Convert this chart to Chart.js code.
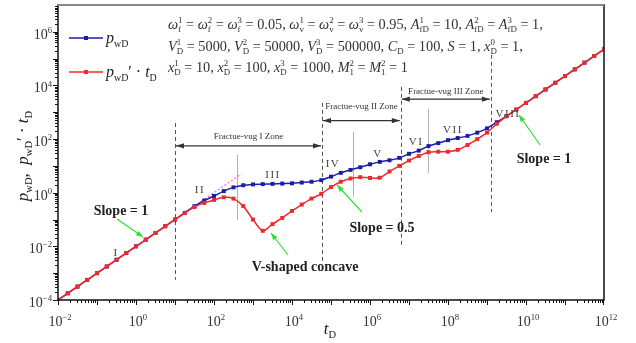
<!DOCTYPE html>
<html>
<head>
<meta charset="utf-8">
<script src="https://cdn.jsdelivr.net/npm/chart.js@4.4.0/dist/chart.umd.min.js"></script>
<style>
  html, body { margin: 0; padding: 0; background: #fff; }
</style>
</head>
<body>
<canvas id="c" width="636" height="343"></canvas>
<script>
// log10 of tD at each marker (every quarter decade)
const tExp = [-2, -1.75, -1.5, -1.25, -1, -0.75, -0.5, -0.25, 0, 0.25, 0.5, 0.75, 1, 1.25, 1.5, 1.75,
  2, 2.25, 2.5, 2.75, 3, 3.25, 3.5, 3.75, 4, 4.25, 4.5, 4.75, 5, 5.25, 5.5, 5.75, 6, 6.25, 6.5, 6.75,
  7, 7.25, 7.5, 7.75, 8, 8.25, 8.5, 8.75, 9, 9.25, 9.5, 9.75, 10, 10.25, 10.5, 10.75, 11, 11.25, 11.5, 11.75, 12];

// log10 of pwD (blue)
const pwdLog = [-4, -3.75, -3.5, -3.25, -3, -2.75, -2.5, -2.25, -2, -1.75, -1.5, -1.25, -1, -0.75, -0.5, -0.29,
  -0.12, 0.06, 0.2, 0.28, 0.31, 0.32, 0.33, 0.34, 0.35, 0.38, 0.41, 0.47, 0.6, 0.74, 0.85, 0.95, 1.06, 1.15, 1.21, 1.3,
  1.45, 1.57, 1.74, 1.85, 1.96, 2.04, 2.12, 2.24, 2.4, 2.63, 2.86, 3.1, 3.35, 3.6, 3.85, 4.1, 4.35, 4.6, 4.85, 5.1, 5.35];

// log10 of pwD' * tD (red)
const derivLog = [-4, -3.75, -3.5, -3.25, -3, -2.75, -2.5, -2.25, -2, -1.75, -1.5, -1.25, -1, -0.76, -0.53, -0.38,
  -0.27, -0.17, -0.22, -0.5, -1.0, -1.42, -1.17, -0.94, -0.68, -0.44, -0.22, -0.04, 0.21, 0.41, 0.53, 0.58, 0.55, 0.56, 0.79, 1.0,
  1.2, 1.37, 1.51, 1.53, 1.53, 1.6, 1.78, 2.0, 2.24, 2.57, 2.85, 3.1, 3.35, 3.6, 3.85, 4.1, 4.35, 4.6, 4.85, 5.1, 5.35];

// pink unit-slope guide
const guideT = [10, 500];
const guideV = [0.1, 5.0];

// zone boundaries (log10 tD) and dashed line extents (log10 y)
const zoneBounds = [1, 4.77, 6.79, 9.1];
const zoneLineLo = [-3.25, -2.62, -1.95, -0.72];
const zoneLineHi = [2.6, 3.35, 3.95, 5.14];
const zoneArrowY = [1.75, 2.69, 3.49];
const zoneNames = ["Fractue-vug I Zone", "Fractue-vug II Zone", "Fractue-vug III Zone"];

// thin grey flow-regime separators (log10 tD, log10 y range)
const sepT = [2.59, 5.56, 7.49];
const sepLo = [-1.01, -0.15, 0.74];
const sepHi = [1.41, 2.28, 3.13];

const xDecades = [-2, 0, 2, 4, 6, 8, 10, 12];
const yDecades = [-4, -2, 0, 2, 4, 6];

const SERIF = '"Liberation Serif", "Times New Roman", serif';
const RED = "#ee2b2b";
const BLUE = "#1c1ca8";
const GREEN = "#33dd33";

// tiny markup: *italic*, _{sub}, ^{sup}; sub followed by sup gets stacked
function parseRich(s) {
  const toks = [];
  let buf = "", ital = false, lastScript = false;
  const flush = () => { if (buf) { toks.push({ t: buf, i: ital, p: 0 }); buf = ""; } };
  for (let i = 0; i < s.length; i++) {
    const c = s[i];
    if (c === "*") { flush(); ital = !ital; lastScript = false; continue; }
    if ((c === "_" || c === "^") && s[i + 1] === "{") {
      flush();
      const end = s.indexOf("}", i);
      toks.push({ t: s.slice(i + 2, end), i: false, p: c === "_" ? 1 : -1, stack: lastScript });
      lastScript = true;
      i = end;
      continue;
    }
    buf += c;
    lastScript = false;
  }
  flush();
  return toks;
}

function drawRich(ctx, src, x, y, size, align = "left", color = "#222", weight = "") {
  const toks = parseRich(src);
  const sm = size * 0.62;
  let cx = 0, sx = null, sw = 0;
  const laid = [];
  for (const t of toks) {
    const fs = t.p ? sm : size;
    ctx.font = `${t.i ? "italic " : ""}${weight} ${fs}px ${SERIF}`;
    const w = ctx.measureText(t.t).width;
    if (t.stack && sx !== null) {
      laid.push({ ...t, x: sx, fs });
      cx = sx + Math.max(sw, w);
      sx = null;
    } else {
      laid.push({ ...t, x: cx, fs });
      if (t.p) { sx = cx; sw = w; } else sx = null;
      cx += w;
    }
  }
  const x0 = align === "center" ? x - cx / 2 : align === "right" ? x - cx : x;
  ctx.fillStyle = color;
  ctx.textAlign = "left";
  ctx.textBaseline = "alphabetic";
  for (const t of laid) {
    ctx.font = `${t.i ? "italic " : ""}${weight} ${t.fs}px ${SERIF}`;
    const dy = t.p === 1 ? size * 0.24 : t.p === -1 ? -size * 0.42 : 0;
    ctx.fillText(t.t, x0 + t.x, y + dy);
  }
  return cx;
}

function arrow(ctx, x1, y1, x2, y2, color, len = 7, half = 2.6, both = false) {
  ctx.save();
  ctx.strokeStyle = color;
  ctx.fillStyle = color;
  ctx.lineWidth = 1.2;
  ctx.beginPath();
  ctx.moveTo(x1, y1);
  ctx.lineTo(x2, y2);
  ctx.stroke();
  const head = (ax, ay, bx, by) => {
    const a = Math.atan2(by - ay, bx - ax);
    ctx.beginPath();
    ctx.moveTo(bx, by);
    ctx.lineTo(bx - len * Math.cos(a) + half * Math.sin(a), by - len * Math.sin(a) - half * Math.cos(a));
    ctx.lineTo(bx - len * Math.cos(a) - half * Math.sin(a), by - len * Math.sin(a) + half * Math.cos(a));
    ctx.closePath();
    ctx.fill();
  };
  head(x1, y1, x2, y2);
  if (both) head(x2, y2, x1, y1);
  ctx.restore();
}

const decor = {
  id: "decor",
  beforeDatasetsDraw(chart) {
    const { ctx, scales: { x, y } } = chart;
    const X = (e) => x.getPixelForValue(Math.pow(10, e));
    const Y = (e) => y.getPixelForValue(Math.pow(10, e));
    ctx.save();
    // dashed zone boundaries
    ctx.strokeStyle = "#555";
    ctx.lineWidth = 1;
    ctx.setLineDash([4, 3]);
    zoneBounds.forEach((b, i) => {
      ctx.beginPath();
      ctx.moveTo(Math.round(X(b)) + 0.5, Y(zoneLineHi[i]));
      ctx.lineTo(Math.round(X(b)) + 0.5, Y(zoneLineLo[i]));
      ctx.stroke();
    });
    ctx.setLineDash([]);
    // grey separators
    ctx.strokeStyle = "#b0b0b0";
    sepT.forEach((t, i) => {
      ctx.beginPath();
      ctx.moveTo(Math.round(X(t)) + 0.5, Y(sepHi[i]));
      ctx.lineTo(Math.round(X(t)) + 0.5, Y(sepLo[i]));
      ctx.stroke();
    });
    ctx.restore();
  },
  afterDraw(chart) {
    const { ctx, chartArea: a, scales: { x, y } } = chart;
    const X = (e) => x.getPixelForValue(Math.pow(10, e));
    const Y = (e) => y.getPixelForValue(Math.pow(10, e));
    ctx.save();

    // frame
    ctx.strokeStyle = "#111";
    ctx.lineWidth = 1.5;
    ctx.strokeRect(a.left, a.top, a.right - a.left, a.bottom - a.top);
    ctx.strokeStyle = "#888";
    ctx.lineWidth = 2;
    ctx.beginPath();
    ctx.moveTo(a.left, a.top); ctx.lineTo(a.right, a.top);
    ctx.stroke();

    // ticks, outward
    ctx.lineWidth = 1;
    ctx.strokeStyle = "#111";
    ctx.beginPath();
    for (let d = -2; d < 12; d++) {
      for (let k = 1; k < 10; k++) {
        const px = Math.round(x.getPixelForValue(k * Math.pow(10, d))) + 0.5;
        const len = k === 1 ? 5 : 3;
        ctx.moveTo(px, a.bottom);
        ctx.lineTo(px, a.bottom + len);
      }
    }
    ctx.moveTo(a.right - 0.5, a.bottom); ctx.lineTo(a.right - 0.5, a.bottom + 5);
    for (let d = -4; d < 7; d++) {
      for (let k = 1; k < 10; k++) {
        const py = Math.round(y.getPixelForValue(k * Math.pow(10, d))) + 0.5;
        const len = k === 1 ? 5 : 3;
        ctx.moveTo(a.left, py);
        ctx.lineTo(a.left - len, py);
      }
    }
    ctx.stroke();

    // tick labels
    xDecades.forEach(e => drawRich(ctx, "10^{" + String(e).replace("-", "\u2212") + "}", X(e) + 2, 326, 14, "center", "#333"));
    yDecades.forEach(e => drawRich(ctx, "10^{" + String(e).replace("-", "\u2212") + "}", 52, Y(e) + 7, 14, "right", "#333"));

    // axis titles
    drawRich(ctx, "*t*_{D}", 330, 334, 17, "center", "#222");
    ctx.save();
    ctx.translate(22, 156);
    ctx.rotate(-Math.PI / 2);
    drawRich(ctx, "*p*_{wD},  *p*_{wD}\u2032 \u00b7 *t*_{D}", 0, 6, 17, "center", "#222");
    ctx.restore();

    // legend
    [[BLUE, 38, "*p*_{wD}"], [RED, 72, "*p*_{wD}\u2032 \u00b7 *t*_{D}"]].forEach(([col, ly, txt]) => {
      ctx.strokeStyle = col;
      ctx.lineWidth = 1.5;
      ctx.beginPath();
      ctx.moveTo(69, ly); ctx.lineTo(103, ly);
      ctx.stroke();
      ctx.fillStyle = col;
      ctx.fillRect(84, ly - 2, 4, 4);
      drawRich(ctx, txt, 106, ly + 5, 16, "left", "#222");
    });

    // parameter block
    const fs = 14.3;
    drawRich(ctx, "*ω*_{f}^{1} = *ω*_{f}^{2} = *ω*_{f}^{3} = 0.05, *ω*_{v}^{1} = *ω*_{v}^{2} = *ω*_{v}^{3} = 0.95, *A*_{fD}^{1} = 10, *A*_{fD}^{2} = *A*_{fD}^{3} = 1,", 168, 29, fs, "left", "#333");
    drawRich(ctx, "*V*_{D}^{1} = 5000, *V*_{D}^{2} = 50000, *V*_{D}^{3} = 500000, *C*_{D} = 100, *S* = 1, *x*_{D}^{0} = 1,", 168, 51, fs, "left", "#333");
    drawRich(ctx, "*x*_{D}^{1} = 10, *x*_{D}^{2} = 100, *x*_{D}^{3} = 1000, *M*_{1}^{2} = *M*_{1}^{2} = 1", 168, 72, fs, "left", "#333");

    // zone arrows and names
    const nameY = [139, 109, 94];
    zoneArrowY.forEach((ly, i) => {
      const x1 = X(zoneBounds[i]) + 1, x2 = X(zoneBounds[i + 1]) - 1, py = Y(ly);
      arrow(ctx, x1, py, x2, py, "#333", 8, 2.6, true);
      ctx.font = `9px ${SERIF}`;
      ctx.fillStyle = "#333";
      ctx.textAlign = "center";
      ctx.fillText(zoneNames[i], (x1 + x2) / 2, nameY[i]);
    });

    // flow regime numerals
    ctx.font = `11px ${SERIF}`;
    ctx.fillStyle = "#444";
    ctx.textAlign = "center";
    ctx.letterSpacing = "1.5px";
    [["I", 116, 256], ["II", 200, 193], ["III", 273, 178], ["IV", 333, 167], ["V", 378, 157],
     ["VI", 416, 145], ["VII", 453, 133], ["VIII", 508, 117]].forEach(([s, px, py]) => ctx.fillText(s, px, py));
    ctx.letterSpacing = "0px";

    // green callouts
    arrow(ctx, 117, 219, 143, 237, GREEN);
    arrow(ctx, 288, 255, 271, 233, GREEN);
    arrow(ctx, 362, 212, 337, 185, GREEN);
    arrow(ctx, 540, 145, 519, 115, GREEN);
    ctx.font = `bold 14px ${SERIF}`;
    ctx.fillStyle = "#222";
    ctx.textAlign = "center";
    ctx.fillText("Slope = 1", 121, 215);
    ctx.fillText("V-shaped concave", 305, 271);
    ctx.fillText("Slope = 0.5", 382, 232);
    ctx.fillText("Slope = 1", 544, 163);

    ctx.restore();
  }
};

const pts = (vals) => tExp.map((e, i) => ({ x: Math.pow(10, e), y: Math.pow(10, vals[i]) }));

new Chart(document.getElementById("c"), {
  type: "line",
  data: {
    datasets: [
      {
        label: "pwD' tD",
        data: pts(derivLog),
        borderColor: RED,
        backgroundColor: RED,
        borderWidth: 1.5,
        pointStyle: "rect",
        pointRadius: 2.8,
        pointBorderWidth: 0,
        tension: 0.3,
        order: 0
      },
      {
        label: "pwD",
        data: pts(pwdLog),
        borderColor: BLUE,
        backgroundColor: BLUE,
        borderWidth: 1.5,
        pointStyle: "rect",
        pointRadius: 2.8,
        pointBorderWidth: 0,
        tension: 0.3,
        order: 1
      },
      {
        label: "slope 1",
        data: guideT.map((t, i) => ({ x: t, y: guideV[i] })),
        borderColor: "#ff66cc",
        borderWidth: 1.2,
        borderDash: [2, 2],
        pointRadius: 0,
        order: 2
      }
    ]
  },
  options: {
    responsive: false,
    animation: false,
    layout: { padding: { left: 58, right: 32, top: 5, bottom: 43 } },
    plugins: { legend: { display: false }, tooltip: { enabled: false } },
    scales: {
      x: { type: "logarithmic", min: 1e-2, max: 1e12, display: false },
      y: { type: "logarithmic", min: 1e-4, max: 1e7, display: false }
    }
  },
  plugins: [decor]
});
</script>
</body>
</html>
